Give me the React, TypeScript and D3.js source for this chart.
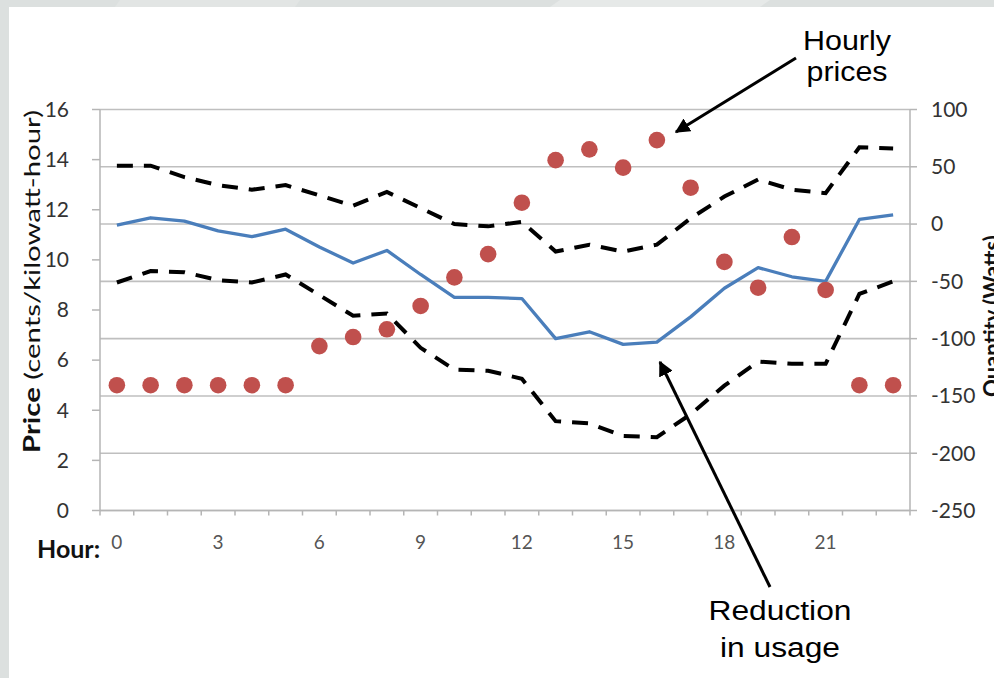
import React from "react";
import * as d3 from "d3";

const hours = d3.range(24);
const hourTickLabels = [0, 3, 6, 9, 12, 15, 18, 21];
const priceTicks = [0, 2, 4, 6, 8, 10, 12, 14, 16];
const qtyTicks = [100, 50, 0, -50, -100, -150, -200, -250];

// Hourly price (cents/kWh) - red dots, left axis
const price = [5.0, 5.0, 5.0, 5.0, 5.0, 5.0, 6.56, 6.92, 7.23, 8.16, 9.3, 10.23, 12.28, 13.98, 14.41, 13.68, 14.78, 12.88, 9.92, 8.89, 10.91, 8.8, 5.0, 5.0];
// Change in usage (Watts) - blue line, right axis
const usage = [-1, 5.5, 2.5, -6, -11, -4.5, -20, -34, -23, -44, -64, -64, -65, -100, -94, -105, -103, -81, -56, -38, -46, -50, 4, 8];
// Upper and lower bounds (Watts) - dashed lines, right axis
const upper = [51, 51, 41, 34, 30, 34, 25, 16, 28, 14, 0, -2, 2, -24, -18, -24, -18, 5, 24, 39, 30, 27, 67, 66];
const lower = [-51, -41, -42, -49, -51, -44, -62, -80, -78, -108, -127, -128, -135, -172, -174, -185, -186, -166, -141, -120, -122, -122, -61, -50];

const W = 994;
const H = 678;
const left = 100;
const right = 910;
const top = 109.5;
const bottom = 510.5;

const tickFont = "Lato, 'Open Sans', sans-serif";
const annFont = "'Liberation Sans', Arial, sans-serif";

export default function App() {
  const x = d3.scaleBand<number>().domain(hours).range([left, right]);
  const cx = (h: number) => (x(h) as number) + x.bandwidth() / 2;
  const yL = d3.scaleLinear().domain([0, 16]).range([bottom, top]);
  const yR = d3.scaleLinear().domain([-250, 100]).range([bottom, top]);

  const lineR = d3
    .line<number>()
    .x((_, i) => cx(hours[i]))
    .y((d) => yR(d));

  const boundaries = d3.range(25).map((k) => left + k * x.bandwidth());

  return (
    <svg
      width={W}
      height={H}
      viewBox={`0 0 ${W} ${H}`}
      style={{ position: "absolute", left: 0, top: 0, display: "block" }}
    >
      <defs>
        <marker id="arrow" viewBox="0 0 10 10" refX="9" refY="5" markerWidth="5" markerHeight="5" orient="auto">
          <path d="M0,0 L10,5 L0,10 z" fill="#000" />
        </marker>
      </defs>
      {/* background */}
      <rect x={0} y={0} width={W} height={H} fill="#dce0df" />
      <polygon points="560,0 770,0 760,7 550,7" fill="#e6e9e8" />
      <polygon points="120,0 300,0 295,7 115,7" fill="#e2e5e4" />
      <rect x={9} y={7} width={W} height={H} fill="#ffffff" />

      {/* gridlines (right axis) */}
      {qtyTicks.map((t) => (
        <line key={"g" + t} x1={left} x2={right} y1={yR(t)} y2={yR(t)} stroke="#bfbfbf" strokeWidth={1.6} />
      ))}

      {/* axes */}
      <line x1={left} x2={left} y1={top} y2={bottom} stroke="#b5b5b5" strokeWidth={1.5} />
      <line x1={right} x2={right} y1={top} y2={bottom} stroke="#b5b5b5" strokeWidth={1.5} />
      <line x1={left} x2={right} y1={bottom} y2={bottom} stroke="#b5b5b5" strokeWidth={1.6} />

      {priceTicks.map((t) => (
        <g key={"pl" + t}>
          <line x1={left - 8} x2={left} y1={yL(t)} y2={yL(t)} stroke="#b5b5b5" strokeWidth={1.5} />
          <text x={69} y={yL(t)} dy="0.35em" textAnchor="end" fontFamily={tickFont} fontSize={21} fill="#333">
            {t}
          </text>
        </g>
      ))}
      {qtyTicks.map((t) => (
        <g key={"ql" + t}>
          <line x1={right} x2={right + 7} y1={yR(t)} y2={yR(t)} stroke="#b5b5b5" strokeWidth={1.5} />
          <text x={931} y={yR(t)} dy="0.35em" textAnchor="start" fontFamily={tickFont} fontSize={21} fill="#333">
            {t}
          </text>
        </g>
      ))}
      {boundaries.map((b, i) => (
        <line key={"xt" + i} x1={b} x2={b} y1={bottom} y2={bottom + 5} stroke="#b5b5b5" strokeWidth={1.5} />
      ))}
      {hourTickLabels.map((h) => (
        <text key={"hl" + h} x={cx(h)} y={549} textAnchor="middle" fontFamily={tickFont} fontSize={19} fill="#555">
          {h}
        </text>
      ))}
      <text x={37} y={558} fontFamily={tickFont} fontWeight="bold" fontSize={25} fill="#111">
        Hour:
      </text>

      {/* axis titles */}
      <text
        transform={`translate(40,453) rotate(-90)`}
        fontFamily={tickFont}
        fontSize={22}
        fill="#111"
        textAnchor="start"
        textLength={343}
        lengthAdjust="spacingAndGlyphs"
      >
        <tspan fontWeight="bold">Price</tspan>
        <tspan> (cents/kilowatt-hour)</tspan>
      </text>
      <text
        transform={`translate(1000,397) rotate(-90)`}
        fontFamily={tickFont}
        fontSize={22}
        fontWeight="bold"
        fill="#111"
        textAnchor="start"
      >
        Quantity (Watts)
      </text>

      {/* series */}
      <path d={lineR(upper) || ""} fill="none" stroke="#000" strokeWidth={4} strokeDasharray="16 11" />
      <path d={lineR(lower) || ""} fill="none" stroke="#000" strokeWidth={4} strokeDasharray="16 11" />
      <path d={lineR(usage) || ""} fill="none" stroke="#4a7ebb" strokeWidth={3.3} strokeLinejoin="round" />
      {price.map((p, i) => (
        <circle key={"p" + i} cx={cx(hours[i])} cy={yL(p)} r={8.3} fill="#c0504d" />
      ))}

      {/* annotations */}
      <line x1={796} y1={58} x2={676} y2={132} stroke="#000" strokeWidth={3} markerEnd="url(#arrow)" />
      <line x1={770} y1={587} x2={660} y2={362} stroke="#000" strokeWidth={3} markerEnd="url(#arrow)" />
      <text x={847} y={50} textAnchor="middle" fontFamily={annFont} fontSize={28} fill="#000" textLength={88} lengthAdjust="spacingAndGlyphs">
        Hourly
      </text>
      <text x={847} y={81} textAnchor="middle" fontFamily={annFont} fontSize={28} fill="#000" textLength={81} lengthAdjust="spacingAndGlyphs">
        prices
      </text>
      <text x={780} y={620} textAnchor="middle" fontFamily={annFont} fontSize={27} fill="#000" textLength={143} lengthAdjust="spacingAndGlyphs">
        Reduction
      </text>
      <text x={780} y={657} textAnchor="middle" fontFamily={annFont} fontSize={27} fill="#000" textLength={120} lengthAdjust="spacingAndGlyphs">
        in usage
      </text>
    </svg>
  );
}
